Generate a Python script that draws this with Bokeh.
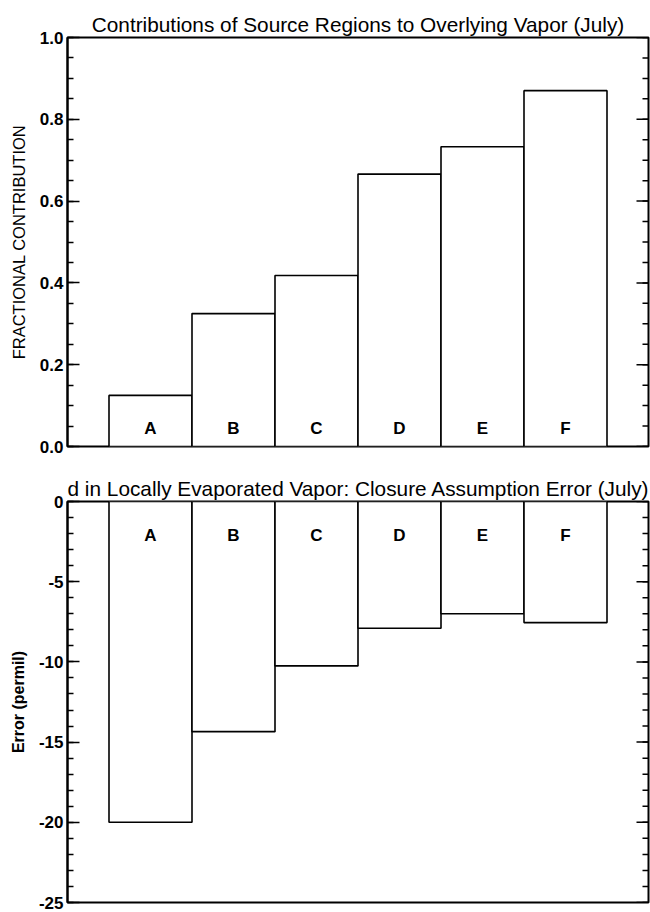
import math
from bokeh.plotting import figure
from bokeh.models import Range1d, FixedTicker, Title
from bokeh.layouts import column
from bokeh.core.properties import value
from bokeh.embed import file_html
from bokeh.resources import INLINE

# ---- data ----
regions = ["A", "B", "C", "D", "E", "F"]
fractional_contribution = [0.125, 0.325, 0.418, 0.666, 0.733, 0.870]
closure_error = [-20.0, -14.35, -10.25, -7.9, -7.0, -7.55]

top_title = "Contributions of Source Regions to Overlying Vapor (July)"
bottom_title = "d in Locally Evaporated Vapor: Closure Assumption Error (July)"
top_ylabel = "FRACTIONAL CONTRIBUTION"
bottom_ylabel = "Error (permil)"

top_major = [0.0, 0.2, 0.4, 0.6, 0.8, 1.0]
top_major_labels = ["0.0", "0.2", "0.4", "0.6", "0.8", "1.0"]
top_minor = [round(i * 0.05, 2) for i in range(21)]
bottom_major = [0, -5, -10, -15, -20, -25]
bottom_major_labels = ["0", "-5", "-10", "-15", "-20", "-25"]
bottom_minor = [-i for i in range(26)]

FONT = "Liberation Sans"
xs = [i + 1 for i in range(len(regions))]
X_END = len(regions) + 1


def style_axes(p, major, labels, minor, ylabel, label_bold, label_size):
    ticker = FixedTicker(ticks=major, minor_ticks=minor)
    ax = p.yaxis[0]
    ax.ticker = ticker
    ax.major_label_overrides = {m: l for m, l in zip(major, labels)}
    ax.major_label_text_font = FONT
    ax.major_label_text_font_style = "bold"
    ax.major_label_text_font_size = "17px"
    ax.major_label_text_color = "black"
    ax.major_label_standoff = 4
    ax.major_tick_in = 12
    ax.major_tick_out = 0
    ax.minor_tick_in = 6
    ax.minor_tick_out = 0
    ax.major_tick_line_width = 1.5
    ax.minor_tick_line_width = 1.5
    ax.major_tick_line_color = "black"
    ax.minor_tick_line_color = "black"
    ax.axis_line_width = 2
    ax.axis_line_color = "black"
    ax.axis_label = ylabel
    ax.axis_label_text_font = FONT
    ax.axis_label_text_font_style = "bold" if label_bold else "normal"
    ax.axis_label_text_font_size = label_size
    ax.axis_label_text_color = "black"
    ax.axis_label_standoff = 9

    # mirrored inward ticks on the right edge, from the same tick lists
    p.ray(x=[X_END] * len(major), y=major, length=12, angle=math.pi,
          length_units="screen", line_color="black", line_width=1.5)
    p.ray(x=[X_END] * len(minor), y=minor, length=6, angle=math.pi,
          length_units="screen", line_color="black", line_width=1.5)

    p.xgrid.visible = False
    p.ygrid.visible = False
    p.outline_line_color = "black"
    p.outline_line_width = 2
    p.background_fill_color = "white"
    p.border_fill_color = "white"


def add_title(p, text, align):
    t = Title(text=text, align=align, text_font=FONT, text_font_size="20.8px",
              text_font_style="normal", text_color="black", standoff=4, offset=0)
    p.add_layout(t, "above")


# ---- top figure ----
p1 = figure(width=650, height=456, x_range=Range1d(0, X_END), y_range=Range1d(0, 1),
            output_backend="svg", toolbar_location=None, x_axis_location=None,
            min_border_left=67, min_border_right=2, min_border_top=37,
            min_border_bottom=10)
style_axes(p1, top_major, top_major_labels, top_minor, top_ylabel, False, "16.5px")
p1.vbar(x=xs, width=1, top=fractional_contribution, bottom=0,
        fill_color="white", line_color="black", line_width=1.6)
p1.text(x=xs, y=[0.043] * len(xs), text=regions, text_align="center",
        text_baseline="middle", text_font=value(FONT), text_font_style="bold",
        text_font_size="17px", text_color="black")
add_title(p1, top_title, "center")

# ---- bottom figure ----
p2 = figure(width=650, height=456, x_range=Range1d(0, X_END), y_range=Range1d(-25, 0),
            output_backend="svg", toolbar_location=None, x_axis_location=None,
            min_border_left=67, min_border_right=2, min_border_top=45,
            min_border_bottom=10)
style_axes(p2, bottom_major, bottom_major_labels, bottom_minor, bottom_ylabel, True, "16px")
p2.vbar(x=xs, width=1, top=0, bottom=closure_error,
        fill_color="white", line_color="black", line_width=1.6)
p2.text(x=xs, y=[-2.1] * len(xs), text=regions, text_align="center",
        text_baseline="middle", text_font=value(FONT), text_font_style="bold",
        text_font_size="17px", text_color="black")
add_title(p2, bottom_title, "left")

layout = column(p1, p2)
open("out.html", "w").write(file_html(layout, INLINE))
